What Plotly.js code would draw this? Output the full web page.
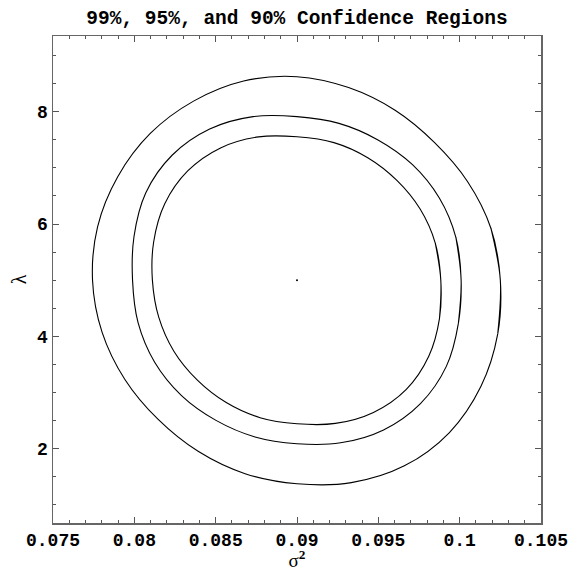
<!DOCTYPE html>
<html>
<head>
<meta charset="utf-8">
<script src="https://cdn.plot.ly/plotly-3.0.1.min.js"></script>
<style>html,body{margin:0;padding:0;background:#fff;}</style>
</head>
<body>
<div id="chart" style="width:571px;height:571px;"></div>
<script>
// 99% confidence region boundary (sigma^2, lambda), read counter-clockwise from the right
var outerX = [0.10250,0.10192,0.10049,0.09846,0.09603,0.09317,0.09000,0.08672,0.08364,0.08098,0.07898,0.07774,0.07743,0.07802,0.07942,0.08145,0.08392,0.08681,0.09000,0.09334,0.09660,0.09937,0.10131,0.10234];
var outerY = [5.000,5.925,6.754,7.449,8.026,8.430,8.624,8.547,8.189,7.613,6.843,5.951,5.000,4.070,3.231,2.523,1.951,1.553,1.374,1.393,1.692,2.286,3.109,4.042];
// 95% confidence region boundary
var middleX = [0.10009,0.09977,0.09875,0.09710,0.09498,0.09258,0.09000,0.08730,0.08463,0.08232,0.08070,0.07998,0.07989,0.08023,0.08125,0.08290,0.08502,0.08742,0.09000,0.09268,0.09532,0.09759,0.09918,0.09992];
var middleY = [5.000,5.758,6.463,7.057,7.498,7.793,7.913,7.913,7.692,7.225,6.554,5.777,5.000,4.242,3.537,2.943,2.502,2.207,2.086,2.102,2.332,2.801,3.464,4.230];
// 90% confidence region boundary
var innerX = [0.09884,0.09850,0.09757,0.09614,0.09435,0.09227,0.09000,0.08764,0.08530,0.08328,0.08187,0.08119,0.08111,0.08150,0.08243,0.08386,0.08565,0.08773,0.09000,0.09236,0.09470,0.09672,0.09810,0.09876];
var innerY = [5.000,5.660,6.266,6.777,7.181,7.450,7.554,7.552,7.356,6.945,6.360,5.684,5.000,4.340,3.734,3.223,2.819,2.550,2.442,2.448,2.644,3.055,3.645,4.320];
// point estimate
var centerX = [0.09];
var centerY = [5.0];

var xTickVals = [0.075,0.08,0.085,0.09,0.095,0.1,0.105];
var xTickText = ["0.075","0.08","0.085","0.09","0.095","0.1","0.105"];
var yTickVals = [2,4,6,8];
var yTickText = ["2","4","6","8"];

// close a ring for a smooth spline: wrap last point in front and first two at the end
function ring(a) { return [a[a.length-1]].concat(a, [a[0], a[1]]); }

var lineStyle = {color:'#000', width:1.1, shape:'spline', smoothing:1};
var traces = [
  {x:ring(outerX), y:ring(outerY), mode:'lines', line:lineStyle, hoverinfo:'skip'},
  {x:ring(middleX), y:ring(middleY), mode:'lines', line:lineStyle, hoverinfo:'skip'},
  {x:ring(innerX), y:ring(innerY), mode:'lines', line:lineStyle, hoverinfo:'skip'},
  {x:centerX, y:centerY, mode:'markers', marker:{color:'#000', size:2}, hoverinfo:'skip'}
];

var tickFont = {family:'"Liberation Mono","Courier New",monospace', size:18, color:'#000', weight:'bold'};
var layout = {
  width:571, height:571,
  margin:{l:53.3, r:30.3, t:36, b:48.3},
  paper_bgcolor:'#fff', plot_bgcolor:'#fff',
  showlegend:false,
  title:{text:'<b>99%, 95%, and 90% Confidence Regions</b>', x:0.5, xref:'paper', y:0.97, yref:'container', yanchor:'middle',
         font:{family:'"Liberation Mono","Courier New",monospace', size:19.5, color:'#000'}},
  xaxis:{range:[0.075,0.105], tickvals:xTickVals, ticktext:xTickText, ticks:'inside', ticklen:6, tickcolor:'#555',
         showline:true, linecolor:'#666', linewidth:1.5, mirror:'allticks', showgrid:false, zeroline:false,
         tickfont:tickFont,
         minor:{dtick:0.001, tick0:0.075, ticks:'inside', ticklen:3, tickcolor:'#555', showgrid:false},
         title:{text:'σ<sup><b>2</b></sup>', font:{family:'"Liberation Serif","DejaVu Serif",serif', size:19, color:'#000'}, standoff:10}},
  yaxis:{range:[0.674,9.349], tickvals:yTickVals, ticktext:yTickText, ticks:'inside', ticklen:6, tickcolor:'#555',
         showline:true, linecolor:'#666', linewidth:1.5, mirror:'allticks', showgrid:false, zeroline:false,
         tickfont:tickFont,
         minor:{dtick:0.5, tick0:0, ticks:'inside', ticklen:3, tickcolor:'#555', showgrid:false},
         title:{text:'λ', font:{family:'"Liberation Serif","DejaVu Serif",serif', size:20, color:'#000'}, standoff:5}}
};
Plotly.newPlot('chart', traces, layout, {staticPlot:true, displayModeBar:false});
</script>
</body>
</html>
